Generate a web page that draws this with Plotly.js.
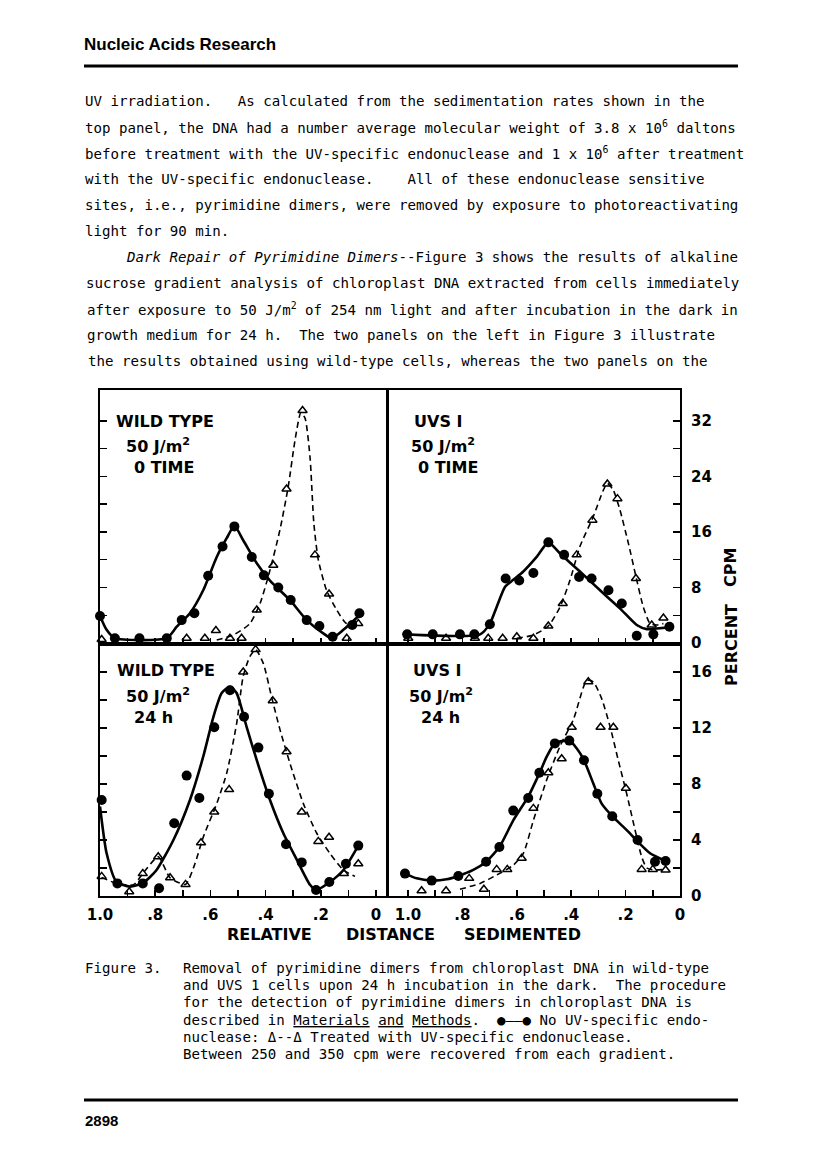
<!DOCTYPE html>
<html>
<head>
<meta charset="utf-8">
<script src="https://cdn.plot.ly/plotly-3.0.1.min.js"></script>
<style>
html,body{margin:0;padding:0;background:#fff;}
#chart{width:816px;height:1175px;}
</style>
</head>
<body>
<div id="chart"></div>
<script>
// ---------------- DATA ----------------
// Wild type, 50 J/m2, 0 time (top-left)
const wt0CircX = [1.0, 0.946, 0.857, 0.758, 0.704, 0.658, 0.608, 0.556, 0.513, 0.45, 0.406, 0.354, 0.309, 0.251, 0.205, 0.157, 0.086, 0.06];
const wt0CircY = [3.9, 0.7, 0.7, 0.7, 3.3, 4.3, 9.7, 13.9, 16.8, 12.4, 9.75, 8.0, 6.2, 3.3, 2.45, 0.9, 2.6, 4.3];
const wt0TriX = [0.994, 0.686, 0.62, 0.58, 0.529, 0.487, 0.432, 0.372, 0.324, 0.266, 0.221, 0.17, 0.106, 0.064];
const wt0TriY = [0.5, 0.7, 0.7, 1.8, 0.7, 0.7, 4.75, 11.2, 22.2, 33.5, 12.7, 7.06, 0.7, 2.8];
const wt0FitX = [1.0, 0.976, 0.946, 0.758, 0.722, 0.674, 0.626, 0.577, 0.541, 0.513, 0.481, 0.432, 0.384, 0.312, 0.251, 0.191, 0.160, 0.118, 0.060];
const wt0FitY = [3.9, 1.9, 0.7, 0.7, 2.35, 4.3, 7.6, 12.4, 15.1, 16.9, 14.8, 11.5, 9.0, 6.2, 3.3, 1.4, 0.7, 1.9, 4.0];
const wt0DashX = [0.577, 0.517, 0.457, 0.420, 0.384, 0.348, 0.318, 0.293, 0.272, 0.257, 0.239, 0.225, 0.209, 0.179, 0.142, 0.106, 0.064];
const wt0DashY = [0.43, 1.15, 2.8, 5.7, 10.5, 16.3, 22.5, 29.3, 33.2, 32.4, 26.8, 17.2, 12.0, 7.6, 4.75, 2.8, 3.3];

// UVS 1, 50 J/m2, 0 time (top-right)
const uv0CircX = [1.003, 0.909, 0.809, 0.756, 0.699, 0.641, 0.591, 0.539, 0.484, 0.426, 0.371, 0.325, 0.263, 0.214, 0.159, 0.098, 0.039];
const uv0CircY = [1.25, 1.25, 1.25, 1.25, 2.7, 9.3, 9.0, 10.1, 14.5, 12.7, 9.5, 9.3, 7.6, 5.7, 1.05, 1.25, 2.35];
const uv0TriX = [0.999, 0.860, 0.754, 0.705, 0.652, 0.600, 0.539, 0.484, 0.431, 0.380, 0.322, 0.267, 0.230, 0.162, 0.104, 0.061];
const uv0TriY = [0.7, 0.7, 0.7, 0.7, 0.7, 0.9, 0.7, 2.45, 5.7, 12.7, 17.7, 22.9, 20.8, 9.3, 2.6, 3.6];
const uv0FitX = [1.003, 0.735, 0.699, 0.674, 0.643, 0.613, 0.576, 0.527, 0.484, 0.441, 0.368, 0.294, 0.221, 0.159, 0.122, 0.086, 0.039];
const uv0FitY = [1.25, 1.25, 2.8, 5.2, 8.1, 9.1, 10.3, 12.4, 14.5, 12.9, 10.3, 7.6, 5.0, 2.6, 2.0, 2.1, 2.25];
const uv0DashX = [0.600, 0.539, 0.484, 0.441, 0.404, 0.368, 0.319, 0.282, 0.267, 0.245, 0.221, 0.190, 0.162, 0.135, 0.110, 0.086, 0.061];
const uv0DashY = [0.7, 1.15, 2.45, 5.2, 9.1, 13.9, 18.2, 22.0, 23.0, 22.0, 19.2, 14.4, 9.6, 5.2, 2.8, 2.6, 2.8];

// Wild type, 50 J/m2, 24 h (bottom-left)
const wt24CircX = [0.994, 0.937, 0.845, 0.786, 0.731, 0.686, 0.640, 0.586, 0.529, 0.478, 0.426, 0.388, 0.326, 0.269, 0.217, 0.169, 0.109, 0.064];
const wt24CircY = [6.86, 0.9, 0.9, 0.55, 5.2, 8.6, 7.0, 12.05, 14.7, 12.8, 10.6, 7.3, 3.7, 2.4, 0.43, 1.0, 2.3, 3.6];
const wt24TriX = [0.994, 0.894, 0.845, 0.789, 0.746, 0.690, 0.634, 0.586, 0.532, 0.481, 0.436, 0.374, 0.324, 0.269, 0.209, 0.170, 0.116, 0.064];
const wt24TriY = [1.4, 0.3, 1.6, 2.8, 1.3, 0.83, 3.8, 6.0, 7.6, 16.0, 17.6, 13.95, 10.3, 6.0, 3.9, 4.2, 1.6, 2.3];
const wt24FitX = [1.0, 0.976, 0.94, 0.891, 0.843, 0.795, 0.734, 0.674, 0.626, 0.589, 0.559, 0.529, 0.505, 0.469, 0.432, 0.384, 0.336, 0.287, 0.239, 0.217, 0.167, 0.118, 0.064];
const wt24FitY = [6.4, 3.05, 1.0, 0.67, 0.95, 1.86, 4.0, 6.86, 9.95, 12.8, 14.5, 14.95, 14.5, 12.1, 9.7, 6.86, 4.5, 2.6, 0.8, 0.43, 1.0, 1.86, 3.6];
const wt24DashX = [0.994, 0.94, 0.879, 0.845, 0.789, 0.746, 0.690, 0.656, 0.626, 0.577, 0.541, 0.505, 0.481, 0.457, 0.436, 0.408, 0.378, 0.348, 0.312, 0.263, 0.215, 0.167, 0.118, 0.076];
const wt24DashY = [1.33, 0.9, 0.8, 1.6, 2.8, 1.3, 0.83, 2.3, 4.2, 6.6, 8.76, 12.3, 15.7, 17.1, 17.6, 16.6, 14.2, 11.9, 9.5, 6.6, 4.5, 3.05, 1.86, 1.4];

// UVS 1, 50 J/m2, 24 h (bottom-right)
const uv24CircX = [1.011, 0.913, 0.815, 0.713, 0.664, 0.613, 0.558, 0.517, 0.460, 0.407, 0.353, 0.304, 0.249, 0.156, 0.092, 0.053];
const uv24CircY = [1.6, 1.1, 1.43, 2.45, 3.5, 6.1, 7.0, 8.8, 10.9, 11.1, 9.7, 7.3, 5.7, 4.0, 2.45, 2.5];
const uv24TriX = [0.950, 0.860, 0.775, 0.721, 0.674, 0.635, 0.582, 0.539, 0.484, 0.435, 0.398, 0.337, 0.292, 0.245, 0.199, 0.141, 0.100, 0.053];
const uv24TriY = [0.38, 0.38, 1.26, 0.48, 1.9, 1.9, 2.7, 6.26, 8.8, 9.8, 12.05, 15.3, 12.05, 12.05, 7.7, 1.9, 1.9, 1.86];
const uv24FitX = [1.011, 0.968, 0.913, 0.858, 0.815, 0.760, 0.713, 0.664, 0.613, 0.558, 0.517, 0.490, 0.460, 0.407, 0.380, 0.353, 0.319, 0.288, 0.249, 0.196, 0.156, 0.110, 0.053];
const uv24FitY = [1.6, 1.26, 1.1, 1.19, 1.43, 1.86, 2.45, 3.5, 5.4, 7.1, 8.76, 9.95, 10.9, 11.1, 10.55, 9.7, 8.05, 6.6, 5.7, 4.7, 3.9, 3.05, 2.5];
const uv24DashX = [0.809, 0.735, 0.674, 0.613, 0.576, 0.539, 0.490, 0.441, 0.392, 0.343, 0.319, 0.288, 0.257, 0.227, 0.196, 0.165, 0.141, 0.122, 0.098, 0.053];
const uv24DashY = [0.48, 0.9, 1.5, 2.2, 3.05, 5.4, 8.3, 10.7, 12.6, 15.4, 15.3, 14.1, 12.1, 9.7, 7.3, 4.7, 2.8, 2.0, 1.86, 1.9];

// Tick labels (major, labelled) and minor (unlabelled) tick positions
const xTickVals = [0, 0.2, 0.4, 0.6, 0.8, 1.0];
const xTickText = ['0', '.2', '.4', '.6', '.8', '1.0'];
const xMinorVals = [0.1, 0.3, 0.5, 0.7, 0.9];
const topYTickVals = [0, 8, 16, 24, 32];
const topYTickText = ['0', '8', '16', '24', '32'];
const topYMinorVals = [4, 12, 20, 28];
const botYTickVals = [0, 4, 8, 12, 16];
const botYTickText = ['0', '4', '8', '12', '16'];
const botYMinorVals = [2, 6, 10, 14];

// Panel labels
const panelLabels = [
  ['WILD TYPE', '50 J/m<sup>2</sup>', '0 TIME'],
  ['UVS I', '50 J/m<sup>2</sup>', '0 TIME'],
  ['WILD TYPE', '50 J/m<sup>2</sup>', '24 h'],
  ['UVS I', '50 J/m<sup>2</sup>', '24 h']
];

// Page text
const headerText = 'Nucleic Acids Research';
const bodyLines = [
  'UV irradiation. \u00a0 As calculated from the sedimentation rates shown in the',
  'top panel, the DNA had a number average molecular weight of 3.8 x 10<sup>6</sup> daltons',
  'before treatment with the UV-specific endonuclease and 1 x 10<sup>6</sup> after treatment',
  'with the UV-specific endonuclease. \u00a0 \u00a0All of these endonuclease sensitive',
  'sites, i.e., pyrimidine dimers, were removed by exposure to photoreactivating',
  'light for 90 min.',
  '<i>Dark Repair of Pyrimidine Dimers</i>--Figure 3 shows the results of alkaline',
  'sucrose gradient analysis of chloroplast DNA extracted from cells immediately',
  'after exposure to 50 J/m<sup>2</sup> of 254 nm light and after incubation in the dark in',
  'growth medium for 24 h. \u00a0The two panels on the left in Figure 3 illustrate',
  'the results obtained using wild-type cells, whereas the two panels on the'
];
const bodyIndent = [84, 84, 84, 84, 84, 84, 125, 85, 86, 86, 87];
const captionLabel = 'Figure 3.';
const captionLines = [
  'Removal of pyrimidine dimers from chloroplast DNA in wild-type',
  'and UVS 1 cells upon 24 h incubation in the dark. \u00a0The procedure',
  'for the detection of pyrimidine dimers in chloroplast DNA is',
  'described in <u>Materials</u> <u>and</u> <u>Methods</u>. \u00a0\u25cf\u2014\u2014\u25cf No UV-specific endo-',
  'nuclease: \u0394--\u0394 Treated with UV-specific endonuclease.',
  'Between 250 and 350 cpm were recovered from each gradient.'
];
const pageNumber = '2898';

// ---------------- LAYOUT ----------------
const W = 816, H = 1175;
const px = v => v / W;
const py = v => 1 - v / H;

const xL = [px(100), px(387)];
const xR = [px(388), px(680)];
const yTop = [py(644), py(390)];
const yBot = [py(896), py(644)];

const tickFont = {family: 'DejaVu Sans', size: 15, color: '#000', weight: 'bold'};

function xAxis(domain, range, anchor, showLabels) {
  return {
    domain: domain, range: range, anchor: anchor,
    showgrid: false, zeroline: false,
    showline: true, mirror: true, linecolor: '#000', linewidth: 2,
    ticks: 'inside', ticklen: 6, tickwidth: 1.5, tickcolor: '#000',
    tickmode: 'array', tickvals: xTickVals, ticktext: xTickText,
    minor: {tickmode: 'array', tickvals: xMinorVals, ticks: 'inside', ticklen: 6, tickwidth: 1.5, tickcolor: '#000', showgrid: false},
    showticklabels: showLabels, tickfont: tickFont, ticklabelstandoff: 4
  };
}
function yAxis(domain, range, anchor, side, vals, text, minorVals, showLabels) {
  return {
    domain: domain, range: range, anchor: anchor, side: side,
    showgrid: false, zeroline: false,
    showline: true, mirror: true, linecolor: '#000', linewidth: 2,
    ticks: 'inside', ticklen: 7, tickwidth: 1.5, tickcolor: '#000',
    tickmode: 'array', tickvals: vals, ticktext: text,
    minor: {tickmode: 'array', tickvals: minorVals, ticks: 'inside', ticklen: 7, tickwidth: 1.5, tickcolor: '#000', showgrid: false},
    showticklabels: showLabels, tickfont: tickFont, ticklabelstandoff: 6
  };
}

const topRange = [-0.14, 36.45];
const botRange = [0, 18];
const leftX = [1.0, -0.04];
const rightX = [1.0735, 0];

const layout = {
  width: W, height: H,
  margin: {l: 0, r: 0, t: 0, b: 0},
  paper_bgcolor: '#fff', plot_bgcolor: '#fff',
  showlegend: false,
  xaxis: xAxis(xL, leftX, 'y', false),
  yaxis: yAxis(yTop, topRange, 'x', 'left', topYTickVals, topYTickText, topYMinorVals, false),
  xaxis2: xAxis(xR, rightX, 'y2', false),
  yaxis2: yAxis(yTop, topRange, 'x2', 'right', topYTickVals, topYTickText, topYMinorVals, true),
  xaxis3: xAxis(xL, leftX, 'y3', true),
  yaxis3: yAxis(yBot, botRange, 'x3', 'left', botYTickVals, botYTickText, botYMinorVals, false),
  xaxis4: xAxis(xR, rightX, 'y4', true),
  yaxis4: yAxis(yBot, botRange, 'x4', 'right', botYTickVals, botYTickText, botYMinorVals, true),
  shapes: [
    {type: 'line', xref: 'paper', yref: 'paper', x0: px(84), x1: px(738), y0: py(66), y1: py(66), line: {color: '#000', width: 3}},
    {type: 'line', xref: 'paper', yref: 'paper', x0: px(84), x1: px(738), y0: py(1100), y1: py(1100), line: {color: '#000', width: 3}}
  ],
  annotations: []
};

function T(text, x, y, font, extra) {
  return Object.assign({
    xref: 'paper', yref: 'paper', x: px(x), y: py(y), text: text,
    showarrow: false, xanchor: 'left', yanchor: 'middle',
    borderpad: 0, font: font
  }, extra || {});
}
const monoFont = {family: 'DejaVu Sans Mono', size: 14.1, color: '#000'};
const figFont = {family: 'DejaVu Sans', size: 16, color: '#000', weight: 'bold'};

// header
layout.annotations.push(T(headerText, 83, 45, {family: 'Liberation Sans', size: 17, color: '#000', weight: 'bold'}));
// body
bodyLines.forEach((s, i) => layout.annotations.push(T(s, bodyIndent[i], 101 + i * 26, monoFont)));
// panel labels
const labelPos = [
  [[115, 421], [125, 445], [133, 467]],
  [[413, 421], [410, 445], [417, 467]],
  [[116, 670], [125, 695], [133, 717]],
  [[412, 670], [408, 695], [420, 717]]
];
panelLabels.forEach((lab, p) => lab.forEach((s, j) =>
  layout.annotations.push(T(s, labelPos[p][j][0], labelPos[p][j][1], figFont))));
// axis titles
const axFont = {family: 'DejaVu Sans', size: 16, color: '#000', weight: 'bold'};
layout.annotations.push(T('RELATIVE', 269, 934, axFont, {xanchor: 'center'}));
layout.annotations.push(T('DISTANCE', 390, 934, axFont, {xanchor: 'center'}));
layout.annotations.push(T('SEDIMENTED', 522, 934, axFont, {xanchor: 'center'}));
layout.annotations.push(T('PERCENT', 731, 645, axFont, {xanchor: 'center', textangle: -90}));
layout.annotations.push(T('CPM', 731, 568, axFont, {xanchor: 'center', textangle: -90}));
// caption
layout.annotations.push(T(captionLabel, 84, 968, monoFont));
captionLines.forEach((s, i) => layout.annotations.push(T(s, 182, 968 + i * 17.2, monoFont)));
// page number
layout.annotations.push(T(pageNumber, 84, 1120, {family: 'Liberation Sans', size: 15, color: '#000', weight: 'bold'}));

// ---------------- TRACES ----------------
function panelTraces(xa, ya, fitX, fitY, dashX, dashY, circX, circY, triX, triY) {
  return [
    {x: dashX, y: dashY, xaxis: xa, yaxis: ya, type: 'scatter', mode: 'lines',
     line: {color: '#000', width: 1.6, dash: '6px,4px', shape: 'spline', smoothing: 0.6}, cliponaxis: false, hoverinfo: 'skip'},
    {x: fitX, y: fitY, xaxis: xa, yaxis: ya, type: 'scatter', mode: 'lines',
     line: {color: '#000', width: 2.6, shape: 'spline', smoothing: 0.6}, cliponaxis: false, hoverinfo: 'skip'},
    {x: circX, y: circY, xaxis: xa, yaxis: ya, type: 'scatter', mode: 'markers',
     marker: {symbol: 'circle', size: 10, color: '#000'}, cliponaxis: false},
    {x: triX, y: triY, xaxis: xa, yaxis: ya, type: 'scatter', mode: 'markers',
     marker: {symbol: 'triangle-up-open', size: 8, color: '#000', line: {color: '#000', width: 1.5}}, cliponaxis: false}
  ];
}

const data = [].concat(
  panelTraces('x', 'y', wt0FitX, wt0FitY, wt0DashX, wt0DashY, wt0CircX, wt0CircY, wt0TriX, wt0TriY),
  panelTraces('x2', 'y2', uv0FitX, uv0FitY, uv0DashX, uv0DashY, uv0CircX, uv0CircY, uv0TriX, uv0TriY),
  panelTraces('x3', 'y3', wt24FitX, wt24FitY, wt24DashX, wt24DashY, wt24CircX, wt24CircY, wt24TriX, wt24TriY),
  panelTraces('x4', 'y4', uv24FitX, uv24FitY, uv24DashX, uv24DashY, uv24CircX, uv24CircY, uv24TriX, uv24TriY)
);

Plotly.newPlot('chart', data, layout, {staticPlot: true, displayModeBar: false});
</script>
</body>
</html>
